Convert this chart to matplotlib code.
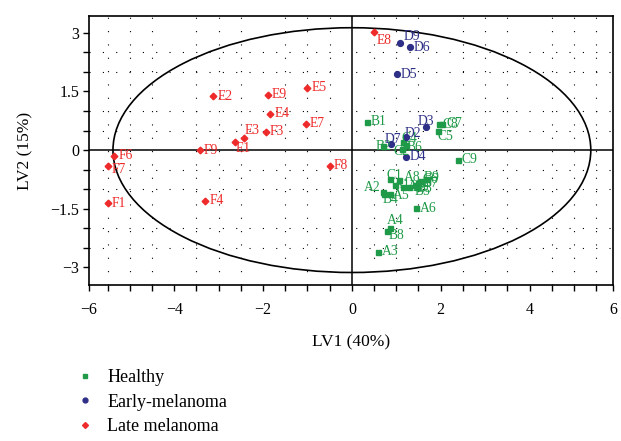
import numpy as np
import matplotlib
matplotlib.use("Agg")
import matplotlib.pyplot as plt
from matplotlib.patches import Ellipse
from matplotlib.lines import Line2D

plt.rcParams['font.family'] = ['Liberation Serif', 'DejaVu Serif']

# Healthy (green squares)
h_names = ["B1", "C8", "C7", "C5", "C9", "B2", "C4", "C2", "B6",
           "C1", "A8", "C6", "B9", "A1", "A7", "A9", "B3", "B7", "B5",
           "A2", "B4", "A5", "A6", "A4", "B8", "A3"]
h_x = [0.34, 1.96, 2.02, 1.94, 2.38, 0.69, 1.16, 1.13, 1.22,
       0.85, 1.07, 1.55, 1.70, 0.98, 1.16, 1.28, 1.43, 1.50, 1.46,
       0.71, 0.73, 0.86, 1.45, 0.86, 0.79, 0.58]
h_y = [0.72, 0.66, 0.67, 0.49, -0.25, 0.10, 0.20, 0.02, 0.14,
       -0.74, -0.77, -0.80, -0.74, -0.90, -0.94, -0.95, -0.90, -0.85, -0.95,
       -1.07, -1.13, -1.11, -1.49, -2.00, -2.06, -2.60]

# Early-melanoma (blue circles)
e_names = ["D9", "D6", "D5", "D3", "D2", "D7", "D4"]
e_x = [1.09, 1.30, 1.01, 1.67, 1.22, 0.88, 1.21]
e_y = [2.74, 2.63, 1.94, 0.60, 0.33, 0.15, -0.17]

# Late melanoma (red diamonds)
l_names = ["E2", "E9", "E5", "E4", "E7", "E3", "F3", "E1", "F9",
           "F6", "F7", "F1", "F4", "F8", "E8"]
l_x = [-3.12, -1.89, -1.00, -1.84, -1.04, -2.43, -1.94, -2.63, -3.42,
       -5.35, -5.49, -5.50, -3.30, -0.49, 0.49]
l_y = [1.38, 1.42, 1.59, 0.93, 0.67, 0.30, 0.47, 0.21, 0.00,
       -0.14, -0.41, -1.36, -1.30, -0.40, 3.01]

# label offsets in pixels (dx, dy), default is (4, 0)
offsets = {"E3": (1, 8), "E1": (1, -7), "F7": (4, -3), "E8": (3, -8),
           "D9": (3, 6), "D3": (-8, 5), "D2": (-1, 4), "D7": (-6, 5),
           "C4": (-2, 4), "C5": (-1, -6), "B2": (-7, 0), "C2": (-9, -2),
           "B6": (1, -3), "C1": (-3, 4), "A8": (4, 3), "B9": (-4, 2),
           "C6": (2, 2), "A1": (-2, 1), "B3": (1, -3), "B5": (-2, -4),
           "A4": (-3, 8), "B8": (2, -5), "B4": (-2, -5), "A5": (3, -2),
           "C7": (5, 0)}

green = "#1f9a48"
blue = "#2e2f86"
red = "#ee2a2a"

fig = plt.figure(figsize=(6.21, 4.41), dpi=100)
ax = fig.add_axes([89/621, 1-285/441, (613-89)/621, (285-16)/441])

x0, x1 = -5.92, 5.88
ax.set_xlim(x0, x1)
ax.set_ylim(-3.45, 3.43)

# dotted grid on half units
ax.set_xticks(np.arange(-5.5, 6, 0.5), minor=True)
ax.set_yticks(np.arange(-3, 3.5, 0.5), minor=True)
ax.grid(which='minor', color='black', linestyle=(0, (1, 11)), linewidth=0.8)

ax.set_xticks([x0, -4, -2, 0, 2, 4, x1])
ax.set_xticklabels(["\u22126", "\u22124", "\u22122", "0", "2", "4", "6"])
ax.set_yticks([-3, -1.5, 0, 1.5, 3])
ax.set_yticklabels(["\u22123", "\u22121.5", "0", "1.5", "3"])
ax.tick_params(which='both', direction='out', length=4, width=1, labelsize=11.5)
ax.tick_params(axis='x', pad=8)
ax.tick_params(axis='y', pad=3)
for s in ax.spines.values():
    s.set_linewidth(1.2)

ax.axhline(0, color='black', lw=1.1, zorder=1)
ax.axvline(0, color='black', lw=1.1, zorder=1)
ax.add_patch(Ellipse((0, 0), 2*5.38, 2*3.13, fill=False, ec='black', lw=1.2, zorder=2))

groups = [(h_names, h_x, h_y, green, 's', 3.6),
          (e_names, e_x, e_y, blue, 'o', 4.2),
          (l_names, l_x, l_y, red, 'D', 3.4)]
for names, xs, ys, col, mk, ms in groups:
    ax.plot(xs, ys, linestyle='none', marker=mk, color=col, markersize=ms, zorder=4)
    for n, xv, yv in zip(names, xs, ys):
        dx, dy = offsets.get(n, (4, 0))
        ha = 'left'
        if n == "A2":
            ha, dx, dy = 'right', -3, 4
        ax.annotate(n, (xv, yv), xytext=(dx*0.72, dy*0.72), textcoords='offset points',
                    ha=ha, va='center', color=col, fontsize=9.8, zorder=5)

ax.set_xlabel("LV1 (40%)", fontsize=12.5, labelpad=12)
ax.set_ylabel("LV2 (15%)", fontsize=12.5, labelpad=12)

handles = [Line2D([], [], linestyle='none', marker='s', color=green, markersize=3),
           Line2D([], [], linestyle='none', marker='o', color=blue, markersize=3.5),
           Line2D([], [], linestyle='none', marker='D', color=red, markersize=3)]
fig.legend(handles, ["Healthy", "Early-melanoma", "Late melanoma"],
           loc='upper left', bbox_to_anchor=(76/621, 1-369/441), frameon=False,
           fontsize=13, handlelength=1.0, handletextpad=0.72, labelspacing=0.42,
           borderpad=0, borderaxespad=0)

fig.savefig("out.png", dpi=100)
